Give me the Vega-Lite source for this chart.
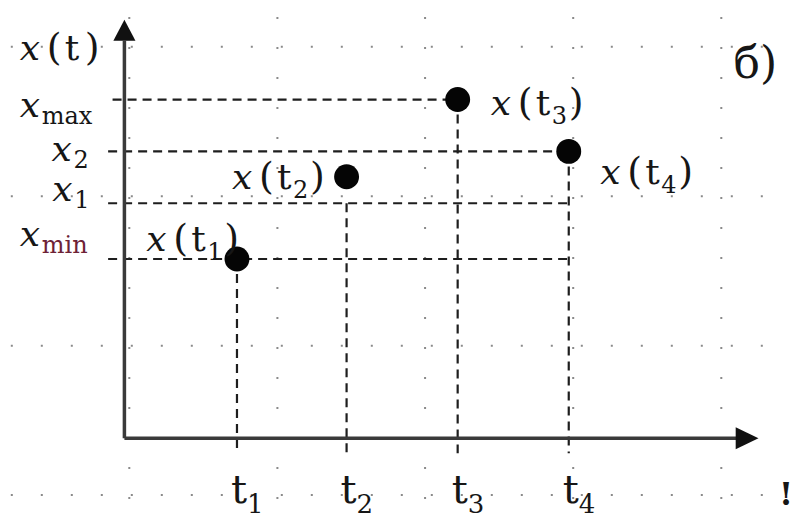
{
  "$schema": "https://vega.github.io/schema/vega-lite/v6.json",
  "description": "Signal samples x(t1)..x(t4) with their levels x_min, x_1, x_2, x_max drawn against a dotted grid.",
  "width": 794,
  "height": 518,
  "autosize": {"type": "fit", "contains": "padding"},
  "padding": 0,
  "background": "#ffffff",
  "config": {
    "view": {"stroke": null},
    "font": "DejaVu Serif",
    "text": {"font": "DejaVu Serif", "color": "#161616", "align": "left", "baseline": "alphabetic"}
  },
  "datasets": {
    "grid": [
      {"line": "c0", "u": 0.033, "u2": 0.033, "v": 2.82, "v2": -0.52},
      {"line": "c1", "u": 1.033, "u2": 1.033, "v": 2.82, "v2": -0.52},
      {"line": "c2", "u": 2.03, "u2": 2.03, "v": 2.82, "v2": -0.52},
      {"line": "c3", "u": 3.03, "u2": 3.03, "v": 2.82, "v2": -0.52},
      {"line": "c4", "u": 4.03, "u2": 4.03, "v": 2.82, "v2": -0.52},
      {"line": "r0", "u": -0.767, "u2": 4.4533, "v": 2.62, "v2": 2.62},
      {"line": "r1", "u": -0.767, "u2": 4.4533, "v": 1.62, "v2": 1.62},
      {"line": "r2", "u": -0.767, "u2": 4.4533, "v": 0.62, "v2": 0.62},
      {"line": "r3", "u": -0.767, "u2": 4.4533, "v": -0.38, "v2": -0.38}
    ],
    "guides": [
      {"ref": "xmax", "u": -0.08, "u2": 2.25, "v": 2.267, "v2": 2.267},
      {"ref": "x2", "u": -0.11, "u2": 3.0, "v": 1.92, "v2": 1.92},
      {"ref": "x1", "u": -0.11, "u2": 3.0, "v": 1.573, "v2": 1.573},
      {"ref": "xmin", "u": -0.11, "u2": 3.0, "v": 1.2, "v2": 1.2},
      {"ref": "t1", "u": 0.76, "u2": 0.76, "v": 1.2, "v2": -0.1},
      {"ref": "t2", "u": 1.5, "u2": 1.5, "v": 1.573, "v2": -0.1},
      {"ref": "t3", "u": 2.25, "u2": 2.25, "v": 2.267, "v2": -0.1},
      {"ref": "t4", "u": 3.0, "u2": 3.0, "v": 1.92, "v2": -0.1}
    ],
    "axes": [
      {"axis": "t", "u": 0, "u2": 4.13, "v": 0, "v2": 0},
      {"axis": "x", "u": 0, "u2": 0, "v": 0, "v2": 2.66}
    ],
    "arrows": [
      {"axis": "t", "u": 4.2, "v": 0},
      {"axis": "x", "u": 0, "v": 2.72}
    ],
    "samples": [
      {"idx": "1", "u": 0.76, "v": 1.2},
      {"idx": "2", "u": 1.5, "v": 1.75},
      {"idx": "3", "u": 2.25, "v": 2.267},
      {"idx": "4", "u": 3.0, "v": 1.92}
    ],
    "levels": [
      {"sub": "max", "u": -0.707, "v": 2.153},
      {"sub": "2", "u": -0.493, "v": 1.853},
      {"sub": "1", "u": -0.487, "v": 1.587},
      {"sub": "min", "u": -0.707, "v": 1.287}
    ],
    "fnLabels": [
      {"sub": "", "u": -0.707, "v": 2.533},
      {"sub": "1", "u": 0.147, "v": 1.253},
      {"sub": "2", "u": 0.727, "v": 1.667},
      {"sub": "3", "u": 2.473, "v": 2.167},
      {"sub": "4", "u": 3.213, "v": 1.7}
    ],
    "notes": [
      {"text": "б)", "u": 4.113, "v": 2.413},
      {"text": "!", "u": 4.42, "v": -0.447}
    ]
  },
  "layer": [
    {
      "data": {"name": "grid"},
      "mark": {"type": "rule", "color": "#8a8a8a", "strokeWidth": 2, "strokeDash": [2, 28]},
      "encoding": {
        "x": {"field": "u", "type": "quantitative", "scale": {"domain": [-0.84, 4.4533], "nice": false, "zero": false}, "axis": null},
        "x2": {"field": "u2"},
        "y": {"field": "v", "type": "quantitative", "scale": {"domain": [-0.52, 2.9333], "nice": false, "zero": false}, "axis": null},
        "y2": {"field": "v2"}
      }
    },
    {
      "data": {"name": "guides"},
      "mark": {"type": "rule", "color": "#1e1e1e", "strokeWidth": 2.2, "strokeDash": [9, 6]},
      "encoding": {
        "x": {"field": "u", "type": "quantitative", "scale": {"domain": [-0.84, 4.4533], "nice": false, "zero": false}, "axis": null},
        "x2": {"field": "u2"},
        "y": {"field": "v", "type": "quantitative", "scale": {"domain": [-0.52, 2.9333], "nice": false, "zero": false}, "axis": null},
        "y2": {"field": "v2"}
      }
    },
    {
      "data": {"name": "axes"},
      "mark": {"type": "rule", "color": "#3a3a3a", "strokeWidth": 3.5},
      "encoding": {
        "x": {"field": "u", "type": "quantitative", "scale": {"domain": [-0.84, 4.4533], "nice": false, "zero": false}, "axis": null},
        "x2": {"field": "u2"},
        "y": {"field": "v", "type": "quantitative", "scale": {"domain": [-0.52, 2.9333], "nice": false, "zero": false}, "axis": null},
        "y2": {"field": "v2"}
      }
    },
    {
      "data": {"name": "arrows"},
      "transform": [{"filter": "datum.axis === 'x'"}],
      "mark": {"type": "point", "shape": "M0,-1L0.92,0.75L-0.92,0.75Z", "size": 576, "filled": true, "opacity": 1, "color": "#111111"},
      "encoding": {
        "x": {"field": "u", "type": "quantitative", "scale": {"domain": [-0.84, 4.4533], "nice": false, "zero": false}, "axis": null},
        "y": {"field": "v", "type": "quantitative", "scale": {"domain": [-0.52, 2.9333], "nice": false, "zero": false}, "axis": null}
      }
    },
    {
      "data": {"name": "arrows"},
      "transform": [{"filter": "datum.axis === 't'"}],
      "mark": {"type": "point", "shape": "M1,0L-0.9,-0.92L-0.9,0.92Z", "size": 576, "filled": true, "opacity": 1, "color": "#111111"},
      "encoding": {
        "x": {"field": "u", "type": "quantitative", "scale": {"domain": [-0.84, 4.4533], "nice": false, "zero": false}, "axis": null},
        "y": {"field": "v", "type": "quantitative", "scale": {"domain": [-0.52, 2.9333], "nice": false, "zero": false}, "axis": null}
      }
    },
    {
      "data": {"name": "samples"},
      "mark": {"type": "circle", "size": 620, "opacity": 1, "color": "#050505"},
      "encoding": {
        "x": {"field": "u", "type": "quantitative", "scale": {"domain": [-0.84, 4.4533], "nice": false, "zero": false}, "axis": null},
        "y": {"field": "v", "type": "quantitative", "scale": {"domain": [-0.52, 2.9333], "nice": false, "zero": false}, "axis": null}
      }
    },
    {
      "data": {"name": "samples"},
      "mark": {"type": "text", "text": "t", "fontSize": 40, "dx": -6},
      "encoding": {
        "x": {"field": "u", "type": "quantitative", "scale": {"domain": [-0.84, 4.4533], "nice": false, "zero": false}, "axis": null},
        "y": {"datum": -0.433, "type": "quantitative", "scale": {"domain": [-0.52, 2.9333], "nice": false, "zero": false}, "axis": null}
      }
    },
    {
      "data": {"name": "samples"},
      "mark": {"type": "text", "fontSize": 26, "dx": 10, "dy": 10},
      "encoding": {
        "text": {"field": "idx"},
        "x": {"field": "u", "type": "quantitative", "scale": {"domain": [-0.84, 4.4533], "nice": false, "zero": false}, "axis": null},
        "y": {"datum": -0.433, "type": "quantitative", "scale": {"domain": [-0.52, 2.9333], "nice": false, "zero": false}, "axis": null}
      }
    },
    {
      "data": {"name": "levels"},
      "mark": {"type": "text", "text": "x", "fontSize": 36, "fontStyle": "italic"},
      "encoding": {
        "x": {"field": "u", "type": "quantitative", "scale": {"domain": [-0.84, 4.4533], "nice": false, "zero": false}, "axis": null},
        "y": {"field": "v", "type": "quantitative", "scale": {"domain": [-0.52, 2.9333], "nice": false, "zero": false}, "axis": null}
      }
    },
    {
      "data": {"name": "levels"},
      "mark": {"type": "text", "fontSize": 24, "dx": 22, "dy": 7},
      "encoding": {
        "text": {"field": "sub"},
        "color": {"condition": {"test": "datum.sub === 'min'", "value": "#6e2236"}, "value": "#161616"},
        "x": {"field": "u", "type": "quantitative", "scale": {"domain": [-0.84, 4.4533], "nice": false, "zero": false}, "axis": null},
        "y": {"field": "v", "type": "quantitative", "scale": {"domain": [-0.52, 2.9333], "nice": false, "zero": false}, "axis": null}
      }
    },
    {
      "data": {"name": "fnLabels"},
      "mark": {"type": "text", "text": "x", "fontSize": 36, "fontStyle": "italic"},
      "encoding": {
        "x": {"field": "u", "type": "quantitative", "scale": {"domain": [-0.84, 4.4533], "nice": false, "zero": false}, "axis": null},
        "y": {"field": "v", "type": "quantitative", "scale": {"domain": [-0.52, 2.9333], "nice": false, "zero": false}, "axis": null}
      }
    },
    {
      "data": {"name": "fnLabels"},
      "mark": {"type": "text", "text": "(", "fontSize": 38, "dx": 27},
      "encoding": {
        "x": {"field": "u", "type": "quantitative", "scale": {"domain": [-0.84, 4.4533], "nice": false, "zero": false}, "axis": null},
        "y": {"field": "v", "type": "quantitative", "scale": {"domain": [-0.52, 2.9333], "nice": false, "zero": false}, "axis": null}
      }
    },
    {
      "data": {"name": "fnLabels"},
      "mark": {"type": "text", "text": "t", "fontSize": 36, "dx": 45},
      "encoding": {
        "x": {"field": "u", "type": "quantitative", "scale": {"domain": [-0.84, 4.4533], "nice": false, "zero": false}, "axis": null},
        "y": {"field": "v", "type": "quantitative", "scale": {"domain": [-0.52, 2.9333], "nice": false, "zero": false}, "axis": null}
      }
    },
    {
      "data": {"name": "fnLabels"},
      "transform": [{"filter": "datum.sub !== ''"}],
      "mark": {"type": "text", "fontSize": 24, "dx": 61, "dy": 9},
      "encoding": {
        "text": {"field": "sub"},
        "x": {"field": "u", "type": "quantitative", "scale": {"domain": [-0.84, 4.4533], "nice": false, "zero": false}, "axis": null},
        "y": {"field": "v", "type": "quantitative", "scale": {"domain": [-0.52, 2.9333], "nice": false, "zero": false}, "axis": null}
      }
    },
    {
      "data": {"name": "fnLabels"},
      "transform": [{"filter": "datum.sub !== ''"}],
      "mark": {"type": "text", "text": ")", "fontSize": 38, "dx": 78},
      "encoding": {
        "x": {"field": "u", "type": "quantitative", "scale": {"domain": [-0.84, 4.4533], "nice": false, "zero": false}, "axis": null},
        "y": {"field": "v", "type": "quantitative", "scale": {"domain": [-0.52, 2.9333], "nice": false, "zero": false}, "axis": null}
      }
    },
    {
      "data": {"name": "fnLabels"},
      "transform": [{"filter": "datum.sub === ''"}],
      "mark": {"type": "text", "text": ")", "fontSize": 38, "dx": 65},
      "encoding": {
        "x": {"field": "u", "type": "quantitative", "scale": {"domain": [-0.84, 4.4533], "nice": false, "zero": false}, "axis": null},
        "y": {"field": "v", "type": "quantitative", "scale": {"domain": [-0.52, 2.9333], "nice": false, "zero": false}, "axis": null}
      }
    },
    {
      "data": {"name": "notes"},
      "transform": [{"filter": "datum.text === 'б)'"}],
      "mark": {"type": "text", "fontSize": 44},
      "encoding": {
        "text": {"field": "text"},
        "x": {"field": "u", "type": "quantitative", "scale": {"domain": [-0.84, 4.4533], "nice": false, "zero": false}, "axis": null},
        "y": {"field": "v", "type": "quantitative", "scale": {"domain": [-0.52, 2.9333], "nice": false, "zero": false}, "axis": null}
      }
    },
    {
      "data": {"name": "notes"},
      "transform": [{"filter": "datum.text === '!'"}],
      "mark": {"type": "text", "fontSize": 32, "fontWeight": "bold"},
      "encoding": {
        "text": {"field": "text"},
        "x": {"field": "u", "type": "quantitative", "scale": {"domain": [-0.84, 4.4533], "nice": false, "zero": false}, "axis": null},
        "y": {"field": "v", "type": "quantitative", "scale": {"domain": [-0.52, 2.9333], "nice": false, "zero": false}, "axis": null}
      }
    }
  ]
}
